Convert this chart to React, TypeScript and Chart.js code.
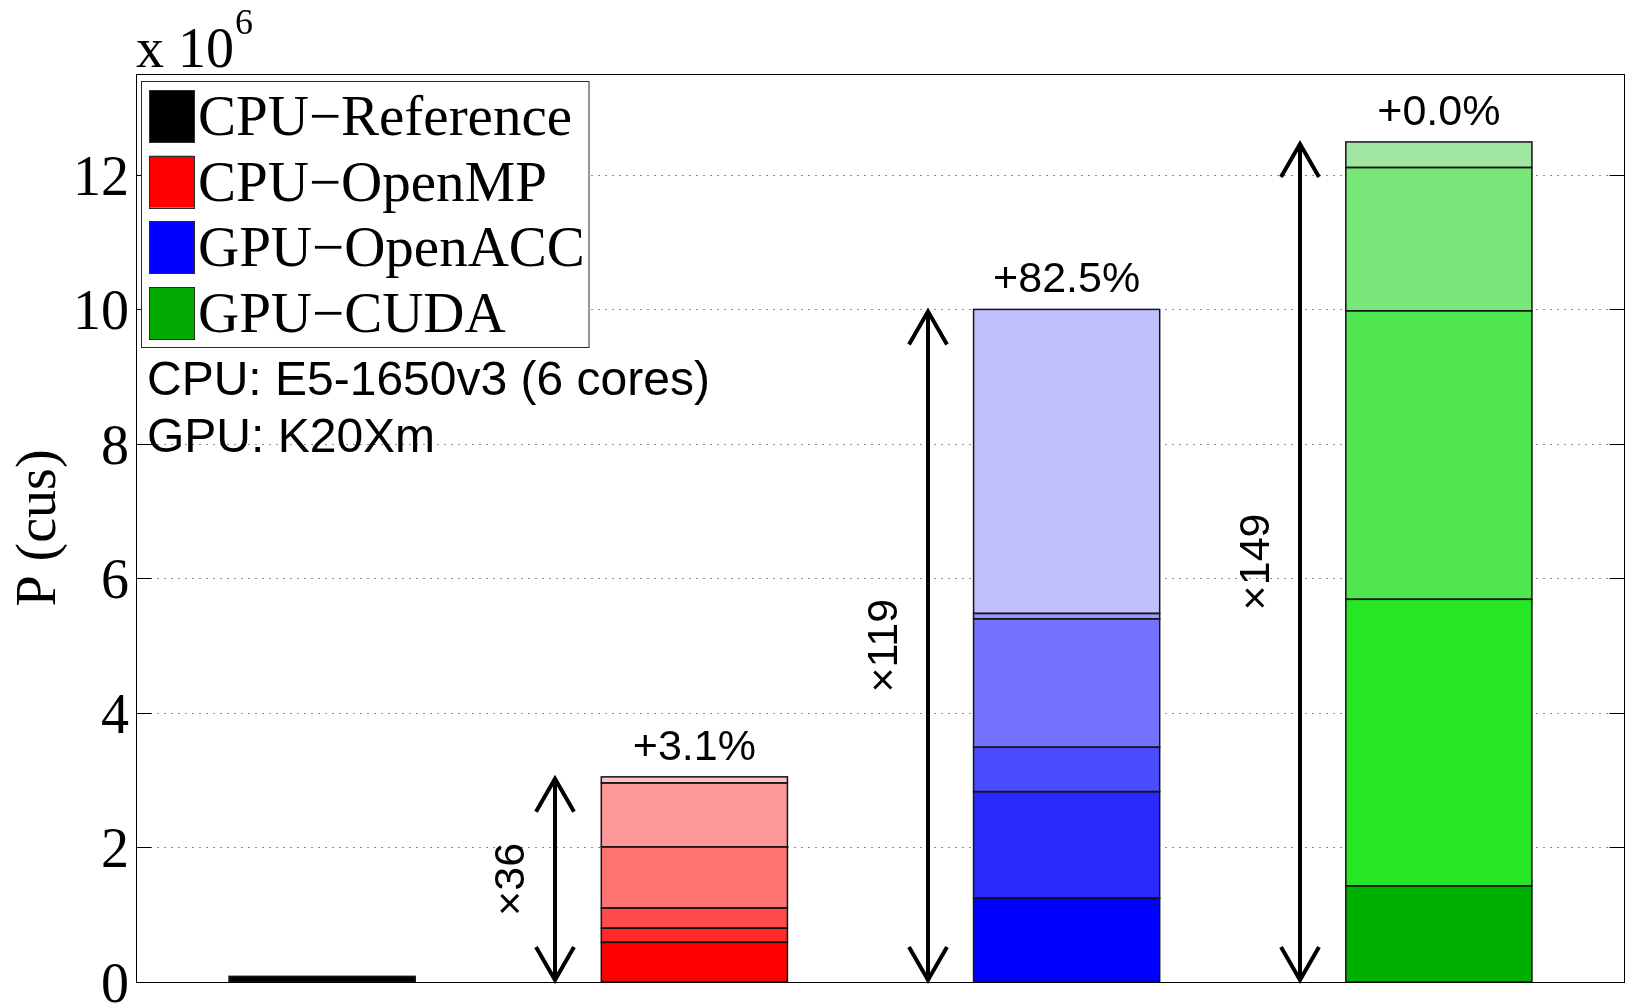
import React, { useEffect, useRef } from 'react';
import { Chart, registerables } from 'chart.js';

Chart.register(...registerables);

// ---- data ----
const categories = ['CPU-Reference', 'CPU-OpenMP', 'GPU-OpenACC', 'GPU-CUDA'];
const refSegments = [0.084];
const openmpSegments = [0.59, 0.21, 0.3, 0.91, 0.95, 0.09];
const openaccSegments = [1.25, 1.58, 0.66, 1.91, 0.08, 4.52];
const cudaSegments = [1.43, 4.26, 4.29, 2.13, 0.38];

const refColors = ['#000000'];
const openmpColors = ['#ff0000', '#ff2a2a', '#ff4b4b', '#ff7272', '#ff9999', '#ffc0c0'];
const openaccColors = ['#0000ff', '#2a2aff', '#4b4bff', '#7272ff', '#9999ff', '#c0c0ff'];
const cudaColors = ['#00b000', '#26e626', '#4fe64f', '#78e678', '#a0e6a0'];

const legendLabels = ['CPU\u2212Reference', 'CPU\u2212OpenMP', 'GPU\u2212OpenACC', 'GPU\u2212CUDA'];
const legendColors = ['#000000', '#ff0000', '#0000ff', '#00aa00'];
const gainLabels = ['', '+3.1%', '+82.5%', '+0.0%'];
const speedupLabels = ['', '\u00d736', '\u00d7119', '\u00d7149'];
const yTicks = [0, 2, 4, 6, 8, 10, 12];
const yMax = 13.5;
const infoLines = ['CPU: E5-1650v3 (6 cores)', 'GPU: K20Xm'];
const yTitle = 'P (cus)';

const SERIF = '"Liberation Serif", "Times New Roman", serif';
const SANS = '"Liberation Sans", Arial, sans-serif';

const barSegments = [refSegments, openmpSegments, openaccSegments, cudaSegments];
const barColors = [refColors, openmpColors, openaccColors, cudaColors];

function buildDatasets() {
  const levels = Math.max(...barSegments.map((s) => s.length));
  const ds: any[] = [];
  for (let k = 0; k < levels; k++) {
    ds.push({
      label: 'segment ' + (k + 1),
      data: barSegments.map((s) => (k < s.length ? s[k] : null)),
      backgroundColor: barColors.map((c) => c[k] || '#ffffff'),
      borderWidth: 0,
      inflateAmount: 0,
      stack: 'main',
    });
  }
  return ds;
}

const overlayPlugin = {
  id: 'overlay',
  beforeDatasetsDraw(chart: any) {
    const { ctx, chartArea, scales } = chart;
    const y = scales.y;
    ctx.save();
    ctx.strokeStyle = '#8a8a8a';
    ctx.lineWidth = 1;
    ctx.setLineDash([2, 5]);
    yTicks.forEach((v) => {
      if (v === 0) return;
      const py = Math.round(y.getPixelForValue(v)) + 0.5;
      ctx.beginPath();
      ctx.moveTo(chartArea.left, py);
      ctx.lineTo(chartArea.right, py);
      ctx.stroke();
    });
    ctx.restore();
  },
  afterDatasetsDraw(chart: any) {
    const { ctx, chartArea, scales } = chart;
    const x = scales.x;
    const y = scales.y;
    const catW = x.getPixelForValue(1) - x.getPixelForValue(0);
    const y0 = y.getPixelForValue(0);

    ctx.save();
    // segment outlines from the library's bar elements
    ctx.strokeStyle = '#141414';
    ctx.lineWidth = 1.5;
    chart.data.datasets.forEach((_: any, k: number) => {
      const meta = chart.getDatasetMeta(k);
      meta.data.forEach((bar: any, i: number) => {
        const v = chart.data.datasets[k].data[i];
        if (v === null || v === undefined) return;
        const p = bar.getProps(['x', 'y', 'base', 'width'], true);
        const l = p.x - p.width / 2;
        const top = Math.min(p.y, p.base);
        const h = Math.abs(p.base - p.y);
        ctx.strokeRect(l, top, p.width, h);
      });
    });

    // arrows, speed-up and gain labels
    barSegments.forEach((segs, i) => {
      const total = segs.reduce((a, b) => a + b, 0);
      const cx = x.getPixelForValue(i);
      const top = y.getPixelForValue(total);
      if (gainLabels[i]) {
        ctx.fillStyle = '#000';
        ctx.font = '43px ' + SANS;
        ctx.textAlign = 'center';
        ctx.textBaseline = 'alphabetic';
        ctx.fillText(gainLabels[i], cx, top - 17);
      }
      if (speedupLabels[i]) {
        const ax = Math.round(cx - 0.3734 * catW);
        ctx.strokeStyle = '#000';
        ctx.lineWidth = 4;
        ctx.lineJoin = 'miter';
        ctx.beginPath();
        ctx.moveTo(ax, y0 - 2);
        ctx.lineTo(ax, top + 2);
        ctx.stroke();
        ctx.beginPath();
        ctx.moveTo(ax - 19, top + 35);
        ctx.lineTo(ax, top + 2);
        ctx.lineTo(ax + 19, top + 35);
        ctx.stroke();
        ctx.beginPath();
        ctx.moveTo(ax - 19, y0 - 35);
        ctx.lineTo(ax, y0 - 2);
        ctx.lineTo(ax + 19, y0 - 35);
        ctx.stroke();

        ctx.save();
        ctx.translate(ax - 43, (y0 + top) / 2);
        ctx.rotate(-Math.PI / 2);
        ctx.fillStyle = '#000';
        ctx.font = '43px ' + SANS;
        ctx.textAlign = 'center';
        ctx.textBaseline = 'middle';
        ctx.fillText(speedupLabels[i], 0, 0);
        ctx.restore();
      }
    });

    // frame
    ctx.strokeStyle = '#000';
    ctx.lineWidth = 1;
    ctx.setLineDash([]);
    const L = chartArea.left + 0.5;
    const R = chartArea.right - 0.5;
    const T = chartArea.top + 0.5;
    const B = chartArea.bottom + 0.5;
    ctx.strokeRect(L, T, R - L, B - T);

    // ticks + tick labels
    ctx.fillStyle = '#000';
    ctx.font = '56px ' + SERIF;
    ctx.textAlign = 'right';
    ctx.textBaseline = 'alphabetic';
    yTicks.forEach((v) => {
      const py = Math.round(y.getPixelForValue(v)) + 0.5;
      ctx.beginPath();
      ctx.moveTo(L, py);
      ctx.lineTo(L + 15, py);
      ctx.moveTo(R, py);
      ctx.lineTo(R - 15, py);
      ctx.stroke();
      ctx.fillText(String(v), chartArea.left - 7, py + 19);
    });

    // exponent
    ctx.textAlign = 'left';
    ctx.font = '56px ' + SERIF;
    ctx.fillText('x 10', 136, 67);
    const w = ctx.measureText('x 10').width;
    ctx.font = '36px ' + SERIF;
    ctx.fillText('6', 136 + w + 1, 34);

    // y title
    ctx.save();
    ctx.translate(40, (chartArea.top + chartArea.bottom) / 2);
    ctx.rotate(-Math.PI / 2);
    ctx.font = '56px ' + SERIF;
    ctx.textAlign = 'center';
    ctx.textBaseline = 'middle';
    ctx.fillText(yTitle, 0, 0);
    ctx.restore();

    // legend
    ctx.fillStyle = '#ffffff';
    ctx.fillRect(141.5, 81.5, 447.5, 266);
    ctx.strokeStyle = '#2a2a2a';
    ctx.lineWidth = 1;
    ctx.strokeRect(141.5, 81.5, 447.5, 266);
    legendLabels.forEach((lab, i) => {
      const ry = 90 + i * 65.7;
      ctx.fillStyle = legendColors[i];
      ctx.fillRect(149, ry, 45, 52);
      ctx.strokeStyle = '#2a2a2a';
      ctx.strokeRect(149.5, Math.round(ry) + 0.5, 45, 52);
      ctx.fillStyle = '#000';
      ctx.font = '57px ' + SERIF;
      ctx.textAlign = 'left';
      ctx.textBaseline = 'alphabetic';
      ctx.fillText(lab, 198, 135 + i * 65.7);
    });

    // info text
    ctx.font = '48px ' + SANS;
    ctx.fillStyle = '#000';
    infoLines.forEach((t, i) => {
      ctx.fillText(t, 147, 395 + i * 57);
    });
    ctx.restore();
  },
};

export default function App() {
  const ref = useRef<HTMLCanvasElement | null>(null);
  useEffect(() => {
    if (!ref.current) return;
    const chart = new Chart(ref.current, {
      type: 'bar',
      data: { labels: categories, datasets: buildDatasets() },
      options: {
        animation: false,
        responsive: false,
        layout: { padding: { left: 0, right: 1, top: 74, bottom: 21 } },
        plugins: { legend: { display: false }, tooltip: { enabled: false } },
        datasets: { bar: { categoryPercentage: 1, barPercentage: 0.5 } } as any,
        scales: {
          x: { type: 'category', stacked: true, display: false, offset: true },
          y: {
            stacked: true,
            min: 0,
            max: yMax,
            display: true,
            ticks: { display: false },
            grid: { display: false, drawTicks: false },
            border: { display: false },
            afterFit: (s: any) => {
              s.width = 136;
            },
          },
        },
      } as any,
      plugins: [overlayPlugin],
    });
    return () => chart.destroy();
  }, []);
  return (
    <div style={{ position: 'absolute', left: 0, top: 0, width: 1626, height: 1003, background: '#fff' }}>
      <canvas ref={ref} width={1626} height={1003} />
    </div>
  );
}
